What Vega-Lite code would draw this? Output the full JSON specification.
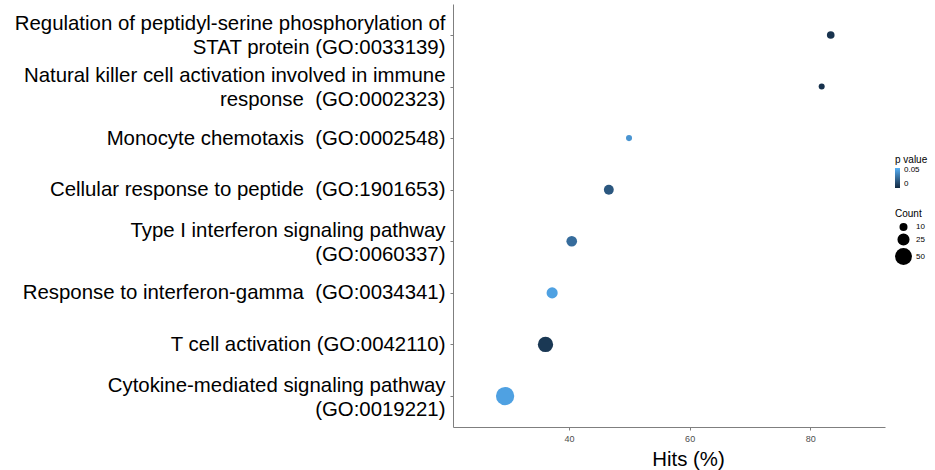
{
  "$schema": "https://vega.github.io/schema/vega-lite/v6.json",
  "autosize": "none",
  "padding": {"left": 453, "top": 4, "right": 50, "bottom": 43},
  "width": 432,
  "height": 423,
  "background": "white",
  "config": {
    "view": {"stroke": null},
    "font": "Liberation Sans"
  },
  "data": {
    "values": [
      {"term": "Regulation of peptidyl-serine phosphorylation of\nSTAT protein (GO:0033139)", "hits": 83.4, "pvalue": 0.004, "count": 9},
      {"term": "Natural killer cell activation involved in immune\nresponse\u00a0 (GO:0002323)", "hits": 81.9, "pvalue": 0.003, "count": 5},
      {"term": "Monocyte chemotaxis\u00a0 (GO:0002548)", "hits": 49.95, "pvalue": 0.045, "count": 5},
      {"term": "Cellular response to peptide\u00a0 (GO:1901653)", "hits": 46.6, "pvalue": 0.02, "count": 16},
      {"term": "Type I interferon signaling pathway\n(GO:0060337)", "hits": 40.45, "pvalue": 0.029, "count": 19},
      {"term": "Response to interferon-gamma\u00a0 (GO:0034341)", "hits": 37.2, "pvalue": 0.05, "count": 21},
      {"term": "T cell activation (GO:0042110)", "hits": 36.1, "pvalue": 0.006, "count": 41},
      {"term": "Cytokine-mediated signaling pathway\n(GO:0019221)", "hits": 29.4, "pvalue": 0.05, "count": 59}
    ]
  },
  "mark": {"type": "circle", "opacity": 1},
  "encoding": {
    "x": {
      "field": "hits", "type": "quantitative",
      "scale": {"domain": [20.76, 92.4], "nice": false, "zero": false},
      "axis": {
        "title": "Hits (%)", "titleFontSize": 20.4, "titleFont": "Liberation Sans", "titleFontWeight": "normal", "titleColor": "black", "titlePadding": 6, "titleX": 235,
        "values": [40, 60, 80], "labelFontSize": 9, "labelColor": "#4d4d4d", "labelPadding": 4,
        "grid": false, "domainColor": "#7f7f7f", "tickColor": "#7f7f7f", "tickSize": 3
      }
    },
    "y": {
      "field": "term", "type": "nominal", "sort": null,
      "scale": {"type": "point", "padding": 0.6},
      "axis": {
        "title": null, "labelFontSize": 20.4, "labelColor": "black", "labelLimit": 600,
        "labelExpr": "split(datum.label, '\\n')", "labelLineHeight": 24, "labelPadding": 5,
        "labelOffset": {"condition": {"test": "indexof(datum.label, '\\n') >= 0", "value": -11}, "value": 0},
        "grid": false, "domainColor": "#7f7f7f", "tickColor": "#7f7f7f", "tickSize": 3
      }
    },
    "color": {
      "field": "pvalue", "type": "quantitative",
      "scale": {"domain": [0, 0.056], "range": ["#132B43", "#56B1F7"]},
      "legend": {
        "title": "p value", "orient": "none", "legendX": 442, "legendY": 151,
        "titleFontSize": 10, "titleFontWeight": "normal", "titleColor": "black", "titlePadding": 3,
        "labelFontSize": 8, "labelColor": "black", "values": [0, 0.05],
        "labelExpr": "datum.value == 0 ? '0' : format(datum.value, '.2f')",
        "gradientLength": 20, "gradientThickness": 5, "gradientStrokeWidth": 0, "labelOffset": 4
      }
    },
    "size": {
      "field": "count", "type": "quantitative",
      "scale": {"domain": [0, 50], "range": [9, 284]},
      "legend": {
        "title": "Count", "orient": "none", "legendX": 442, "legendY": 205,
        "titleFontSize": 10, "titleFontWeight": "normal", "titleColor": "black", "titlePadding": 4,
        "labelFontSize": 8, "labelColor": "black", "values": [10, 25, 50],
        "symbolFillColor": "black", "symbolStrokeWidth": 0, "symbolType": "circle", "rowPadding": 2
      }
    }
  }
}
